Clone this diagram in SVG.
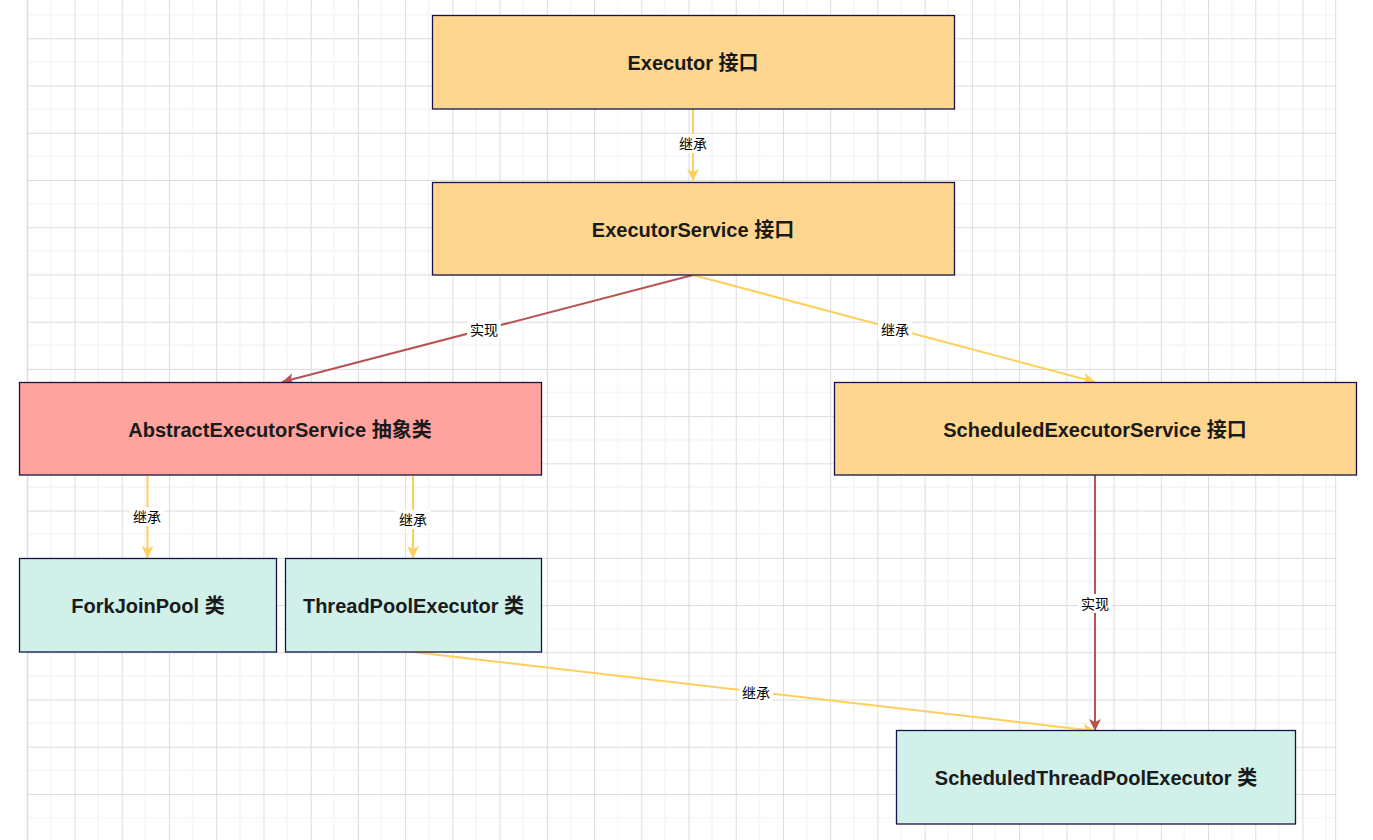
<svg xmlns="http://www.w3.org/2000/svg" width="1373" height="840" viewBox="0 0 1373 840">
  <style>
    .box { stroke: #14144a; stroke-width: 1.3; }
    .iface { fill: #FFD68F; }
    .abs { fill: #FFA39F; }
    .cls { fill: #D0F0E9; }
    .t { font-family: "Liberation Sans", "Noto Sans CJK SC", sans-serif; font-size: 20px; font-weight: bold; fill: #1a1a1a; text-anchor: middle; }
    .lbl { font-family: "Liberation Sans", "Noto Sans CJK SC", sans-serif; font-size: 14px; fill: #000; text-anchor: middle; }
    .lblbg { fill: #ffffff; }
    .y { stroke: #FFCF5C; stroke-width: 2; fill: none; }
    .r { stroke: #B85450; stroke-width: 2; fill: none; }
  </style>
  <defs>
    <pattern id="grid" patternUnits="userSpaceOnUse" x="27.3" y="38.3" width="47.23" height="47.23">
      <path d="M23.615,0 V47.23 M0,23.615 H47.23" stroke="#efefef" stroke-width="1" fill="none"/>
      <path d="M0.5,0 V47.23 M0,0.5 H47.23" stroke="#dcdcdc" stroke-width="1" fill="none"/>
    </pattern>
    <marker id="ay" markerUnits="userSpaceOnUse" markerWidth="14" markerHeight="14" refX="12" refY="6" orient="auto">
      <path d="M0,0 L12,6 L0,12 L3,6 z" fill="#FFCF5C"/>
    </marker>
    <marker id="ar" markerUnits="userSpaceOnUse" markerWidth="14" markerHeight="14" refX="12" refY="6" orient="auto">
      <path d="M0,0 L12,6 L0,12 L3,6 z" fill="#B85450"/>
    </marker>
  </defs>
  <rect x="0" y="0" width="1373" height="840" fill="#ffffff"/>
  <rect x="27" y="0" width="1309" height="840" fill="url(#grid)"/>
  <path d="M27.3,0 V840 M1335.7,0 V840" stroke="#dcdcdc" stroke-width="1"/>

  <g id="connectors">
    <path class="y" d="M693,109 L693,181" marker-end="url(#ay)"/>
    <path class="r" d="M693,275 L282,382" marker-end="url(#ar)"/>
    <path class="y" d="M693,275 L1095,382" marker-end="url(#ay)"/>
    <path class="y" d="M147.5,475 L147.5,558" marker-end="url(#ay)"/>
    <path class="y" d="M413,475 L413,558" marker-end="url(#ay)"/>
    <path class="r" d="M1095,475 L1095,731" marker-end="url(#ar)"/>
    <path class="y" d="M413,652 L1095,731" marker-end="url(#ay)"/>
    <g id="labels">
      <rect class="lblbg" x="676" y="134" width="34" height="19"/>
      <text class="lbl" x="693" y="149">继承</text>
      <rect class="lblbg" x="467" y="320" width="34" height="19"/>
      <text class="lbl" x="484" y="335">实现</text>
      <rect class="lblbg" x="878" y="320" width="34" height="19"/>
      <text class="lbl" x="895" y="335">继承</text>
      <rect class="lblbg" x="130" y="507" width="34" height="19"/>
      <text class="lbl" x="147" y="522">继承</text>
      <rect class="lblbg" x="396" y="510" width="34" height="19"/>
      <text class="lbl" x="413" y="525">继承</text>
      <rect class="lblbg" x="1078" y="594" width="34" height="19"/>
      <text class="lbl" x="1095" y="609">实现</text>
      <rect class="lblbg" x="739" y="683" width="34" height="19"/>
      <text class="lbl" x="756" y="698">继承</text>
    </g>
  </g>

  <g id="executor">
    <rect class="box iface" x="432.5" y="15.5" width="522" height="93.5"/>
    <text class="t" x="693" y="70">Executor 接口</text>
  </g>
  <g id="executorService">
    <rect class="box iface" x="432.5" y="182.5" width="522" height="92.5"/>
    <text class="t" x="693" y="237">ExecutorService 接口</text>
  </g>
  <g id="abstractExecutorService">
    <rect class="box abs" x="19.5" y="382.5" width="522" height="92.5"/>
    <text class="t" x="280" y="437">AbstractExecutorService 抽象类</text>
  </g>
  <g id="scheduledExecutorService">
    <rect class="box iface" x="834.5" y="382.5" width="522" height="92.5"/>
    <text class="t" x="1095" y="437">ScheduledExecutorService 接口</text>
  </g>
  <g id="forkJoinPool">
    <rect class="box cls" x="19.5" y="558.5" width="257" height="93.5"/>
    <text class="t" x="148" y="613">ForkJoinPool 类</text>
  </g>
  <g id="threadPoolExecutor">
    <rect class="box cls" x="285.5" y="558.5" width="256" height="93.5"/>
    <text class="t" x="413.5" y="613">ThreadPoolExecutor 类</text>
  </g>
  <g id="scheduledThreadPoolExecutor">
    <rect class="box cls" x="896.5" y="730.5" width="399" height="93.5"/>
    <text class="t" x="1096" y="785">ScheduledThreadPoolExecutor 类</text>
  </g>
</svg>
